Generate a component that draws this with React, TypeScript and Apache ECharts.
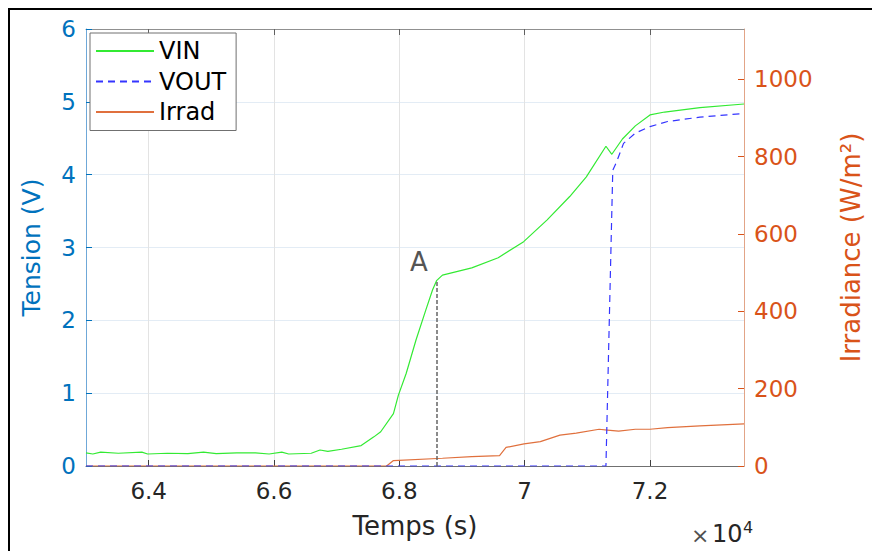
import React, { useEffect, useRef } from "react";
import * as echarts from "echarts";

const xTicks = [64000, 66000, 68000, 70000, 72000];
const rightTicks = [0, 200, 400, 600, 800, 1000];

const vinTime = [63000, 63109, 63234, 63516, 63891, 63984, 64297, 64625, 64875, 65078, 65406, 65703, 65922, 66125, 66234, 66594, 66734, 66859, 67078, 67391, 67594, 67703, 67906, 67984, 68109, 68266, 68422, 68531, 68594, 68688, 69156, 69578, 69984, 70359, 70719, 70984, 71297, 71391, 71560, 71766, 72000, 72234, 72797, 73500];
const vinValues = [0.18, 0.165, 0.19, 0.175, 0.19, 0.165, 0.175, 0.17, 0.19, 0.17, 0.18, 0.18, 0.165, 0.19, 0.165, 0.175, 0.22, 0.2, 0.23, 0.28, 0.4, 0.47, 0.72, 0.97, 1.27, 1.73, 2.14, 2.42, 2.545, 2.62, 2.72, 2.86, 3.08, 3.38, 3.7, 3.97, 4.39, 4.28, 4.49, 4.67, 4.82, 4.86, 4.92, 4.97];

const voutTime = [63000, 71297, 71406, 71469, 71578, 71766, 72000, 72281, 72797, 73500];
const voutValues = [0, 0, 4.06, 4.18, 4.43, 4.57, 4.66, 4.73, 4.79, 4.84];

const irradTime = [63000, 67797, 67906, 68688, 69156, 69599, 69703, 69990, 70250, 70563, 70823, 71188, 71318, 71500, 71766, 72000, 72281, 72797, 73500];
const irradValues = [0, 0, 14, 20, 24, 27, 48, 57, 63, 80, 85, 95, 93, 90, 95, 95, 99, 104, 109];

const pointATime = 68600;
const pointAValue = 2.55;

const zip = (t: number[], v: number[]) => t.map((x, i) => [x, v[i]]);

const FONT = "'DejaVu Sans', Arial, sans-serif";
const BLUE = "#0072BD";
const ORANGE = "#D95319";

export default function App() {
  const ref = useRef<HTMLDivElement>(null);
  useEffect(() => {
    if (!ref.current) return;
    const chart = echarts.init(ref.current, undefined, { renderer: "svg", width: 872, height: 551 });
    chart.setOption({
      animation: false,
      backgroundColor: "#fff",
      grid: { left: 86, right: 114, top: 29, bottom: 85, containLabel: false },
      legend: {
        orient: "vertical",
        left: 90,
        top: 33,
        itemWidth: 58,
        itemHeight: 0.5,
        itemGap: 5.5,
        padding: [5.5, 10, 6, 5],
        backgroundColor: "#fff",
        borderColor: "#707070",
        borderWidth: 1,
        selectedMode: false,
        itemStyle: { opacity: 0 },
        data: ["VIN", "VOUT", "Irrad"],
        textStyle: { fontSize: 24, lineHeight: 25, color: "#000", fontFamily: FONT },
      },
      xAxis: [
        {
          type: "value",
          min: 63000,
          max: 73500,
          position: "bottom",
          axisLine: { show: true, onZero: false, lineStyle: { color: "#707070", width: 1 } },
          axisTick: { show: true, inside: true, length: 6, customValues: xTicks, lineStyle: { color: "#404040" } },
          axisLabel: {
            customValues: xTicks,
            formatter: (v: number) => String(v / 10000),
            fontSize: 23,
            color: "#262626",
            fontFamily: FONT,
            margin: 13,
          },
          splitLine: { show: true, lineStyle: { color: "#e3e3e3", width: 1 } },
          name: "Temps (s)",
          nameLocation: "middle",
          nameGap: 47,
          nameTextStyle: { fontSize: 26, color: "#262626", fontFamily: FONT },
        },
        {
          type: "value",
          min: 63000,
          max: 73500,
          position: "top",
          axisLine: { show: true, onZero: false, lineStyle: { color: "#909090", width: 1 } },
          axisTick: { show: true, inside: true, length: 6, customValues: xTicks, lineStyle: { color: "#606060" } },
          axisLabel: { show: false },
          splitLine: { show: false },
        },
      ],
      yAxis: [
        {
          type: "value",
          min: 0,
          max: 6,
          interval: 1,
          position: "left",
          axisLine: { show: true, onZero: false, lineStyle: { color: "#6fa8d8", width: 1 } },
          axisTick: { show: true, inside: true, length: 6, lineStyle: { color: BLUE } },
          axisLabel: { fontSize: 23, color: BLUE, fontFamily: FONT, margin: 10 },
          splitLine: { show: true, lineStyle: { color: "#e3ecf5", width: 1 } },
          name: "Tension (V)",
          nameLocation: "middle",
          nameGap: 42,
          nameTextStyle: { fontSize: 25, color: BLUE, fontFamily: FONT },
        },
        {
          type: "value",
          min: 0,
          max: 1130,
          position: "right",
          axisLine: { show: true, onZero: false, lineStyle: { color: "#e2a487", width: 1 } },
          axisTick: { show: true, inside: true, length: 6, customValues: rightTicks, lineStyle: { color: ORANGE } },
          axisLabel: {
            customValues: rightTicks,
            formatter: (v: number) => String(v),
            fontSize: 23,
            color: ORANGE,
            fontFamily: FONT,
            margin: 10,
          },
          splitLine: { show: false },
          name: "Irradiance (W/m²)",
          nameLocation: "middle",
          nameGap: 94,
          nameTextStyle: { fontSize: 26, color: ORANGE, fontFamily: FONT },
        },
      ],
      series: [
        {
          name: "Irrad",
          type: "line",
          xAxisIndex: 0,
          yAxisIndex: 1,
          symbol: "none",
          showSymbol: false,
          data: zip(irradTime, irradValues),
          lineStyle: { color: "#e0703d", width: 1.2 },
          itemStyle: { color: "#e0703d" },
          z: 2,
        },
        {
          name: "VIN",
          type: "line",
          xAxisIndex: 0,
          yAxisIndex: 0,
          symbol: "none",
          showSymbol: false,
          data: zip(vinTime, vinValues),
          lineStyle: { color: "#33ea33", width: 1.2 },
          itemStyle: { color: "#33ea33" },
          z: 3,
          markLine: {
            silent: true,
            symbol: "none",
            label: { show: false },
            lineStyle: { color: "#666", type: [4, 2], width: 1.5 },
            data: [[{ coord: [pointATime, 0] }, { coord: [pointATime, pointAValue] }]],
          },
          markPoint: {
            silent: true,
            symbol: "circle",
            symbolSize: 0,
            data: [{ coord: [pointATime, pointAValue], value: "A" }],
            label: {
              show: true,
              formatter: "A",
              position: "inside",
              offset: [-18, -18],
              fontSize: 26,
              color: "#555",
              fontFamily: FONT,
            },
          },
        },
        {
          name: "VOUT",
          type: "line",
          xAxisIndex: 0,
          yAxisIndex: 0,
          symbol: "none",
          showSymbol: false,
          data: zip(voutTime, voutValues),
          lineStyle: { color: "#3535ff", width: 1.2, type: [7, 5] },
          itemStyle: { color: "#3535ff" },
          z: 4,
        },
      ],
      graphic: [
        {
          type: "rect",
          shape: { x: 9, y: 9, width: 1000, height: 1000 },
          style: { fill: "none", stroke: "#000", lineWidth: 2 },
          silent: true,
        },
        {
          type: "text",
          x: 691,
          y: 546,
          style: { text: "×", fontSize: 22, fill: "#505050", fontFamily: FONT, verticalAlign: "bottom", align: "left" },
        },
        {
          type: "text",
          x: 712,
          y: 546,
          style: { text: "10", fontSize: 24, fill: "#262626", fontFamily: FONT, verticalAlign: "bottom", align: "left" },
        },
        {
          type: "text",
          x: 743,
          y: 535,
          style: { text: "4", fontSize: 16, fill: "#262626", fontFamily: FONT, verticalAlign: "bottom", align: "left" },
        },
      ],
    });
    return () => chart.dispose();
  }, []);
  return <div ref={ref} style={{ position: "fixed", left: 0, top: 0, width: 872, height: 551 }} />;
}
